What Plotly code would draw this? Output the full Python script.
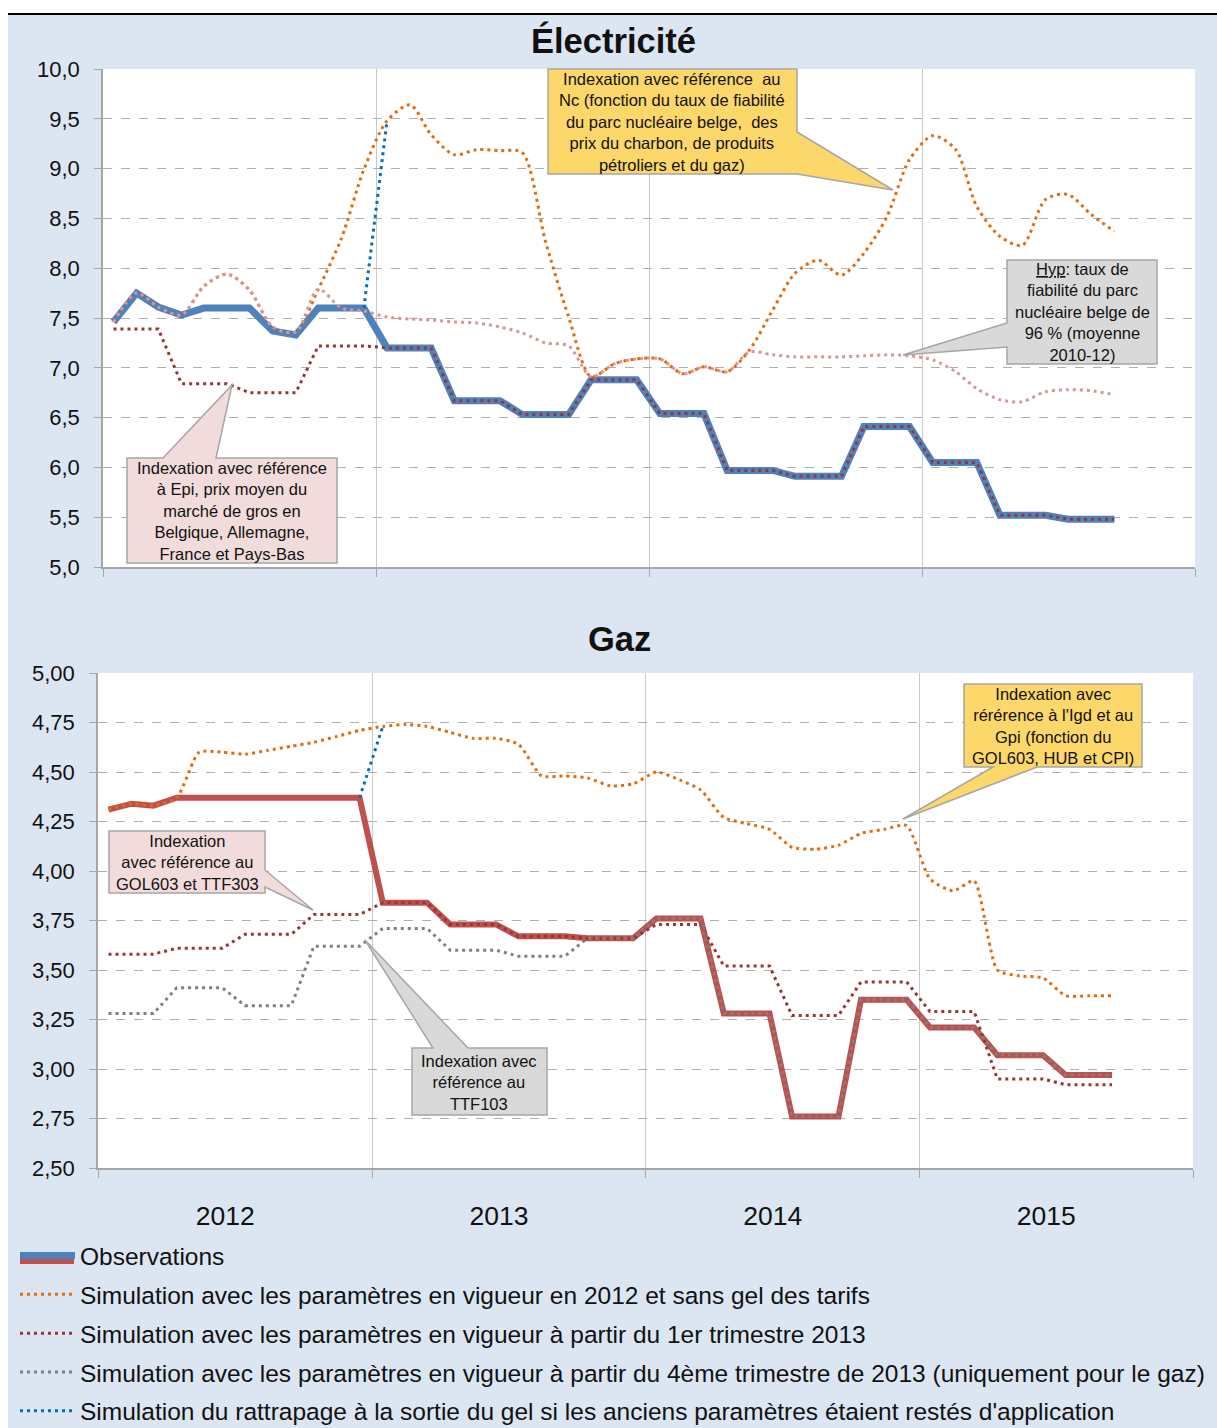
import pandas as pd
import plotly.graph_objects as go

# ---------------- data ----------------
months = (pd.date_range("2012-01-01", periods=45, freq="MS") + pd.Timedelta(days=14)).strftime("%Y-%m-%d").tolist()

elec_obs = [7.46, 7.75, 7.61, 7.53, 7.60, 7.60, 7.60, 7.37, 7.33, 7.60, 7.60, 7.60,
            7.20, 7.20, 7.20, 6.67, 6.67, 6.67, 6.53, 6.53, 6.53, 6.88, 6.88, 6.88,
            6.54, 6.54, 6.54, 5.97, 5.97, 5.97, 5.91, 5.91, 5.91, 6.41, 6.41, 6.41,
            6.05, 6.05, 6.05, 5.52, 5.52, 5.52, 5.48, 5.48, 5.48]
elec_sim2012 = [7.46, 7.75, 7.61, 7.53, 7.82, 7.94, 7.78, 7.41, 7.36, 7.79, 8.30, 8.99,
                9.48, 9.64, 9.34, 9.14, 9.19, 9.18, 9.16, 8.27, 7.51, 6.91, 7.04, 7.09,
                7.09, 6.94, 7.01, 6.96, 7.18, 7.58, 7.95, 8.08, 7.93, 8.15, 8.52, 9.09,
                9.33, 9.19, 8.62, 8.32, 8.23, 8.69, 8.74, 8.54, 8.37]
elec_hyp96 = [7.46, 7.75, 7.61, 7.53, 7.82, 7.94, 7.78, 7.41, 7.36, 7.79, 7.60, 7.57,
              7.51, 7.49, 7.48, 7.46, 7.45, 7.41, 7.35, 7.25, 7.22, 6.91, 7.04, 7.09,
              7.09, 6.94, 7.01, 6.96, 7.16, 7.13, 7.11, 7.11, 7.11, 7.12, 7.13, 7.12,
              7.08, 6.96, 6.79, 6.68, 6.66, 6.76, 6.78, 6.77, 6.73]
elec_sim2013 = [7.39, 7.39, 7.39, 6.84, 6.84, 6.84, 6.75, 6.75, 6.75, 7.22, 7.22, 7.22,
                7.20, 7.20, 7.20, 6.67, 6.67, 6.67, 6.53, 6.53, 6.53, 6.88, 6.88, 6.88,
                6.54, 6.54, 6.54, 5.97, 5.97, 5.97, 5.91, 5.91, 5.91, 6.41, 6.41, 6.41,
                6.05, 6.05, 6.05, 5.52, 5.52, 5.52, 5.48, 5.48, 5.48]
elec_catchup = [None] * 11 + [7.60, 9.48] + [None] * 32

gas_obs = [4.31, 4.34, 4.33, 4.37, 4.37, 4.37, 4.37, 4.37, 4.37, 4.37, 4.37, 4.37,
           3.84, 3.84, 3.84, 3.73, 3.73, 3.73, 3.67, 3.67, 3.67, 3.66, 3.66, 3.66,
           3.76, 3.76, 3.76, 3.28, 3.28, 3.28, 2.76, 2.76, 2.76, 3.35, 3.35, 3.35,
           3.21, 3.21, 3.21, 3.07, 3.07, 3.07, 2.97, 2.97, 2.97]
gas_sim2012 = [4.31, 4.34, 4.33, 4.37, 4.60, 4.60, 4.59, 4.61, 4.63, 4.65, 4.68, 4.71,
               4.73, 4.74, 4.73, 4.70, 4.67, 4.67, 4.64, 4.48, 4.48, 4.47, 4.43, 4.44,
               4.50, 4.46, 4.41, 4.27, 4.24, 4.21, 4.12, 4.11, 4.13, 4.19, 4.21, 4.23,
               3.96, 3.90, 3.95, 3.50, 3.47, 3.46, 3.37, 3.37, 3.37]
gas_sim2013 = [3.58, 3.58, 3.58, 3.61, 3.61, 3.61, 3.68, 3.68, 3.68, 3.78, 3.78, 3.78,
               3.84, 3.84, 3.84, 3.73, 3.73, 3.73, 3.67, 3.67, 3.67, 3.66, 3.66, 3.66,
               3.73, 3.73, 3.73, 3.52, 3.52, 3.52, 3.27, 3.27, 3.27, 3.44, 3.44, 3.44,
               3.29, 3.29, 3.29, 2.95, 2.95, 2.95, 2.92, 2.92, 2.92]
gas_sim2013q4 = [3.28, 3.28, 3.28, 3.41, 3.41, 3.41, 3.32, 3.32, 3.32, 3.62, 3.62, 3.62,
                 3.71, 3.71, 3.71, 3.60, 3.60, 3.60, 3.57, 3.57, 3.57, 3.66, 3.66, 3.66,
                 3.76, 3.76, 3.76, 3.28, 3.28, 3.28, 2.76, 2.76, 2.76, 3.35, 3.35, 3.35,
                 3.21, 3.21, 3.21, 3.07, 3.07, 3.07, 2.97, 2.97, 2.97]
gas_catchup = [None] * 11 + [4.37, 4.73] + [None] * 32

legend_names = [
    "Observations",
    "Simulation avec les paramètres en vigueur en 2012 et sans gel des tarifs",
    "Simulation avec les paramètres en vigueur à partir du 1er trimestre 2013",
    "Simulation avec les paramètres en vigueur à partir du 4ème trimestre de 2013 (uniquement pour le gaz)",
    "Simulation du rattrapage à la sortie du gel si les anciens paramètres étaient restés d'application",
]

# ---------------- styles ----------------
W, H = 1217, 1428
FONT = "Liberation Sans, Arial, sans-serif"
C_BLUE = "#4F81BD"
C_RED = "#C0504D"
C_ORANGE = "#E46C0A"
C_DARKRED = "#953735"
C_PINK = "#DA9694"
C_GREY = "#808080"
C_CATCH = "#0070C0"
DOT = "3px,4px"


def fx(p):
    return p / W


def fy(p):
    return 1 - p / H


fig = go.Figure()


def add(y, xa, ya, name, color, width, dash=None, shape="linear", show=False, rank=1, smooth=None):
    line = dict(color=color, width=width, shape=shape)
    if dash:
        line["dash"] = dash
    if smooth is not None:
        line["smoothing"] = smooth
    fig.add_trace(go.Scatter(x=months, y=y, xaxis=xa, yaxis=ya, mode="lines", name=name,
                             line=line, showlegend=show, legendgroup=name, legendrank=rank,
                             connectgaps=False, hoverinfo="x+y"))


# Électricité
add(elec_obs, "x", "y", legend_names[0], C_BLUE, 7, show=True, rank=1)
add(elec_sim2012, "x", "y", legend_names[1], C_ORANGE, 3, DOT, "spline", show=True, rank=2, smooth=0.8)
add(elec_hyp96, "x", "y", "Hyp 96 %", C_PINK, 3, DOT, "spline", smooth=0.8)
add(elec_sim2013, "x", "y", legend_names[2], C_DARKRED, 3, DOT, show=True, rank=3)
add(elec_catchup, "x", "y", legend_names[4], C_CATCH, 3, DOT, show=True, rank=5)
# Gaz
add(gas_obs, "x2", "y2", legend_names[0], C_RED, 6)
add(gas_sim2012, "x2", "y2", legend_names[1], C_ORANGE, 3, DOT, "spline", smooth=0.6)
add(gas_sim2013, "x2", "y2", legend_names[2], C_DARKRED, 3, DOT)
add(gas_sim2013q4, "x2", "y2", legend_names[3], C_GREY, 3, DOT, show=True, rank=4)
add(gas_catchup, "x2", "y2", legend_names[4], C_CATCH, 3, DOT)

xcommon = dict(type="date", range=["2012-01-01", "2016-01-01"], tick0="2012-01-01", dtick="M12",
               ticks="outside", ticklen=8, tickcolor="#A6A6A6", showgrid=True, gridcolor="#C8C8C8",
               gridwidth=1, showline=True, linecolor="#A6A6A6", linewidth=1.5, zeroline=False)
ycommon = dict(ticks="outside", ticklen=7, tickcolor="#A6A6A6", showgrid=True, gridcolor="#AFAFAF",
               griddash="dash", gridwidth=1, showline=True, linecolor="#A6A6A6", linewidth=1.5,
               zeroline=False, tickfont=dict(size=22, color="#111111"), ticklabelstandoff=10)

# ---------------- callouts ----------------
shapes = [
    dict(type="rect", xref="paper", yref="paper", x0=0, x1=1, y0=fy(14), y1=1,
         fillcolor="white", line=dict(width=0), layer="below"),
    dict(type="rect", xref="paper", yref="paper", x0=0, x1=fx(8), y0=0, y1=1,
         fillcolor="white", line=dict(width=0), layer="below"),
    dict(type="line", xref="paper", yref="paper", x0=fx(8), x1=1, y0=fy(14), y1=fy(14),
         line=dict(color="black", width=2), layer="above"),
]


def callout(pts, fill):
    d = "M " + " L ".join(f"{fx(a):.5f},{fy(b):.5f}" for a, b in pts) + " Z"
    shapes.append(dict(type="path", xref="paper", yref="paper", path=d, fillcolor=fill,
                       line=dict(color="#A6A6A6", width=1.5), layer="above"))


YEL, GRY, PNK = "#FCD76A", "#D9D9D9", "#F2DCDB"
# Nc (électricité)
callout([(548, 69), (797, 69), (797, 132), (893, 190), (797, 174), (548, 174)], YEL)
# Hyp
callout([(1007, 260), (1157, 260), (1157, 364), (1007, 364), (1007, 347), (903, 355), (1007, 323)], GRY)
# Epi
callout([(127, 458), (163, 458), (232, 385), (216, 458), (337, 458), (337, 563), (127, 563)], PNK)
# GOL603 / TTF303
callout([(109, 831), (265, 831), (265, 870), (313, 910), (265, 887), (265, 893), (109, 893)], PNK)
# TTF103
callout([(412, 1048), (433, 1048), (365, 940), (468, 1048), (547, 1048), (547, 1115), (412, 1115)], GRY)
# Igd / Gpi
callout([(964, 684), (1142, 684), (1142, 767), (1037, 767), (903, 819), (993, 767), (964, 767)], YEL)

# red half of the "Observations" legend icon (the blue half is the legend's own symbol)
shapes.append(dict(type="line", xref="paper", yref="paper", x0=fx(20), x1=fx(74), y0=fy(1261), y1=fy(1261),
                   line=dict(color=C_RED, width=6), layer="above"))

ann = []


def text(x, y, s, size=16.5, bold=False):
    ann.append(dict(x=fx(x), y=fy(y), xref="paper", yref="paper", text=(f"<b>{s}</b>" if bold else s),
                    showarrow=False, align="center", xanchor="center", yanchor="middle",
                    font=dict(size=size, color="#111111", family=FONT)))


text(613, 40, "Électricité", 34.5, True)
text(619, 639, "Gaz", 34.5, True)
text(672, 122, "Indexation avec référence  au<br>Nc (fonction du taux de fiabilité<br>du parc nucléaire belge,  des<br>prix du charbon, de produits<br>pétroliers et du gaz)")
text(1082, 312, "<u>Hyp</u>: taux de<br>fiabilité du parc<br>nucléaire belge de<br>96 % (moyenne<br>2010-12)")
text(232, 511, "Indexation avec référence<br>à Epi, prix moyen du<br>marché de gros en<br>Belgique, Allemagne,<br>France et Pays-Bas")
text(187, 862, "Indexation<br>avec référence au<br>GOL603 et TTF303")
text(479, 1082, "Indexation avec<br>référence au<br>TTF103")
text(1053, 726, "Indexation avec<br>rérérence à l'Igd et au<br>Gpi (fonction du<br>GOL603, HUB et CPI)")

fig.update_layout(
    width=W, height=H, margin=dict(l=0, r=0, t=0, b=0, autoexpand=False),
    paper_bgcolor="#DCE6F2", plot_bgcolor="white", separators=", ",
    font=dict(family=FONT, color="#111111"),
    xaxis=dict(domain=[fx(103), fx(1195)], anchor="y", showticklabels=False, **xcommon),
    yaxis=dict(domain=[fy(567), fy(69)], anchor="x", range=[5, 10], tick0=5, dtick=0.5,
               tickformat=".1f", **ycommon),
    xaxis2=dict(domain=[fx(98), fx(1193)], anchor="y2", showticklabels=True, tickformat="%Y",
                ticklabelmode="period", tickfont=dict(size=26.5, color="#111111"),
                ticklabelshift=-10, ticklabelstandoff=15, **xcommon),
    yaxis2=dict(domain=[fy(1168), fy(673)], anchor="x2", range=[2.5, 5], tick0=2.5, dtick=0.25,
                tickformat=".2f", **ycommon),
    legend=dict(x=fx(15), y=fy(1233), xanchor="left", yanchor="top", orientation="v",
                font=dict(size=24.5, color="#111111", family=FONT), bgcolor="rgba(0,0,0,0)",
                tracegroupgap=4, itemwidth=55, traceorder="grouped"),
    shapes=shapes, annotations=ann, showlegend=True, hovermode="closest",
)

fig.write_html("out.html")
